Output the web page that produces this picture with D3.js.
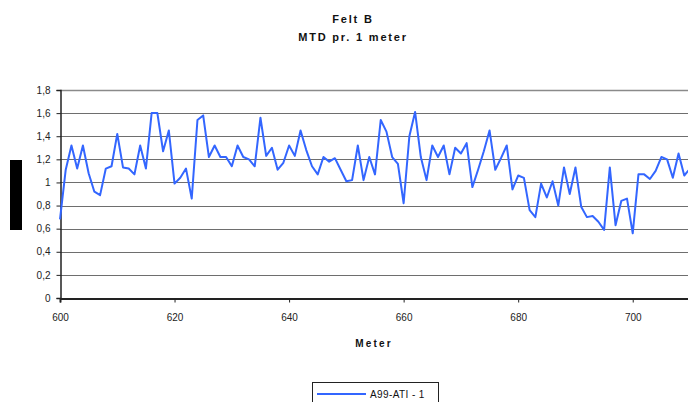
<!DOCTYPE html>
<html>
<head>
<meta charset="utf-8">
<script src="https://cdn.jsdelivr.net/npm/d3@7"></script>
<style>
  html, body { margin: 0; padding: 0; background: #fff; }
  svg { display: block; font-family: "Liberation Sans", Arial, sans-serif; }
</style>
</head>
<body>
<svg id="chart" width="688" height="402"></svg>
<script>
// MTD readings, one per metre
const meters = d3.range(600, 711);
const mtd = [
  0.68, 1.11, 1.32, 1.12, 1.32, 1.08, 0.92, 0.89, 1.12, 1.14,
  1.42, 1.13, 1.12, 1.07, 1.32, 1.12, 1.60, 1.60, 1.27, 1.45,
  0.99, 1.04, 1.12, 0.86, 1.54, 1.58, 1.22, 1.32, 1.22, 1.22,
  1.14, 1.32, 1.22, 1.20, 1.14, 1.56, 1.23, 1.30, 1.11, 1.17,
  1.32, 1.23, 1.45, 1.28, 1.14, 1.07, 1.22, 1.18, 1.21, 1.11,
  1.01, 1.02, 1.32, 1.02, 1.22, 1.07, 1.54, 1.44, 1.22, 1.16,
  0.82, 1.40, 1.61, 1.22, 1.02, 1.32, 1.22, 1.32, 1.07, 1.30,
  1.25, 1.34, 0.96, 1.11, 1.27, 1.45, 1.11, 1.21, 1.32, 0.94,
  1.06, 1.04, 0.76, 0.70, 0.99, 0.87, 1.01, 0.80, 1.13, 0.90,
  1.13, 0.79, 0.70, 0.71, 0.66, 0.59, 1.13, 0.63, 0.84, 0.86,
  0.56, 1.07, 1.07, 1.03, 1.10, 1.22, 1.20, 1.04, 1.25, 1.06,
  1.12
];
const xTicks = [600, 620, 640, 660, 680, 700];
const yTicks = [0, 0.2, 0.4, 0.6, 0.8, 1, 1.2, 1.4, 1.6, 1.8];
const seriesName = "A99-ATI - 1";
const titleLines = ["Felt B", "MTD pr. 1 meter"];
const xTitle = "Meter";

const svg = d3.select("#chart");
const plotL = 60, plotR = 690, plotT = 90, plotB = 298;

const x = d3.scaleLinear().domain([600, 710]).range([plotL, plotR]);
const y = d3.scaleLinear().domain([0, 1.8]).range([plotB, plotT]);
const fmt = v => d3.format(".1~f")(v).replace(".", ",");

// titles
svg.selectAll("text.title").data(titleLines).join("text")
  .attr("class", "title")
  .attr("x", 353).attr("y", (d, i) => 23 + i * 18)
  .attr("text-anchor", "middle")
  .attr("font-family", "'Liberation Sans Narrow', 'Liberation Sans', Arial, sans-serif")
  .attr("font-size", 11).attr("font-weight", "bold")
  .attr("letter-spacing", 1.8)
  .attr("fill", "#111")
  .text(d => d);

// horizontal gridlines
svg.append("g").selectAll("line").data(yTicks.filter(v => v > 0)).join("line")
  .attr("x1", plotL).attr("x2", 688)
  .attr("y1", d => Math.round(y(d)) + 0.5).attr("y2", d => Math.round(y(d)) + 0.5)
  .attr("stroke", d => d === 1.8 ? "#8a8a8a" : "#6e6e6e")
  .attr("stroke-width", d => d === 1.8 ? 1.5 : 1);

// y axis
const yAxis = svg.append("g")
  .attr("transform", `translate(${plotL + 0.5},0)`)
  .call(d3.axisLeft(y).tickValues(yTicks).tickFormat(fmt).tickSize(4).tickPadding(6));
yAxis.select(".domain").attr("stroke", "#222").attr("stroke-width", 1.5);
yAxis.selectAll(".tick line").attr("stroke", "#222");
yAxis.selectAll(".tick text").attr("font-size", 10).attr("fill", "#222")
  .attr("font-family", "Liberation Sans, Arial, sans-serif");

// x axis
const xAxis = svg.append("g")
  .attr("transform", `translate(0,${plotB + 0.5})`)
  .call(d3.axisBottom(x).tickValues(xTicks).tickFormat(d3.format("d")).tickSize(4).tickPadding(11));
xAxis.select(".domain").attr("stroke", "#222").attr("stroke-width", 2);
xAxis.selectAll(".tick line").attr("stroke", "#222");
xAxis.selectAll(".tick text").attr("font-size", 10).attr("fill", "#222")
  .attr("font-family", "Liberation Sans, Arial, sans-serif");

// x axis title
svg.append("text")
  .attr("x", 374).attr("y", 347)
  .attr("text-anchor", "middle")
  .attr("font-size", 10).attr("font-weight", "bold")
  .attr("letter-spacing", 2.2)
  .attr("fill", "#111")
  .text(xTitle);

// y axis title block
svg.append("rect")
  .attr("x", 10).attr("y", 160).attr("width", 12).attr("height", 70)
  .attr("fill", "#000");

// data line
const line = d3.line().x((d, i) => x(meters[i])).y(d => y(d));
svg.append("path")
  .datum(mtd)
  .attr("d", line)
  .attr("fill", "none")
  .attr("stroke", "#3366ff")
  .attr("stroke-width", 2)
  .attr("stroke-linejoin", "round");

// legend
const lg = svg.append("g");
lg.append("rect")
  .attr("x", 312.5).attr("y", 382.5).attr("width", 126).attr("height", 30)
  .attr("fill", "#fff").attr("stroke", "#222").attr("stroke-width", 1);
lg.append("line")
  .attr("x1", 317).attr("x2", 366).attr("y1", 394).attr("y2", 394)
  .attr("stroke", "#3366ff").attr("stroke-width", 2);
lg.append("text")
  .attr("x", 370).attr("y", 397.5)
  .attr("font-size", 10).attr("fill", "#111")
  .attr("letter-spacing", 0.4)
  .text(seriesName);
</script>
</body>
</html>
